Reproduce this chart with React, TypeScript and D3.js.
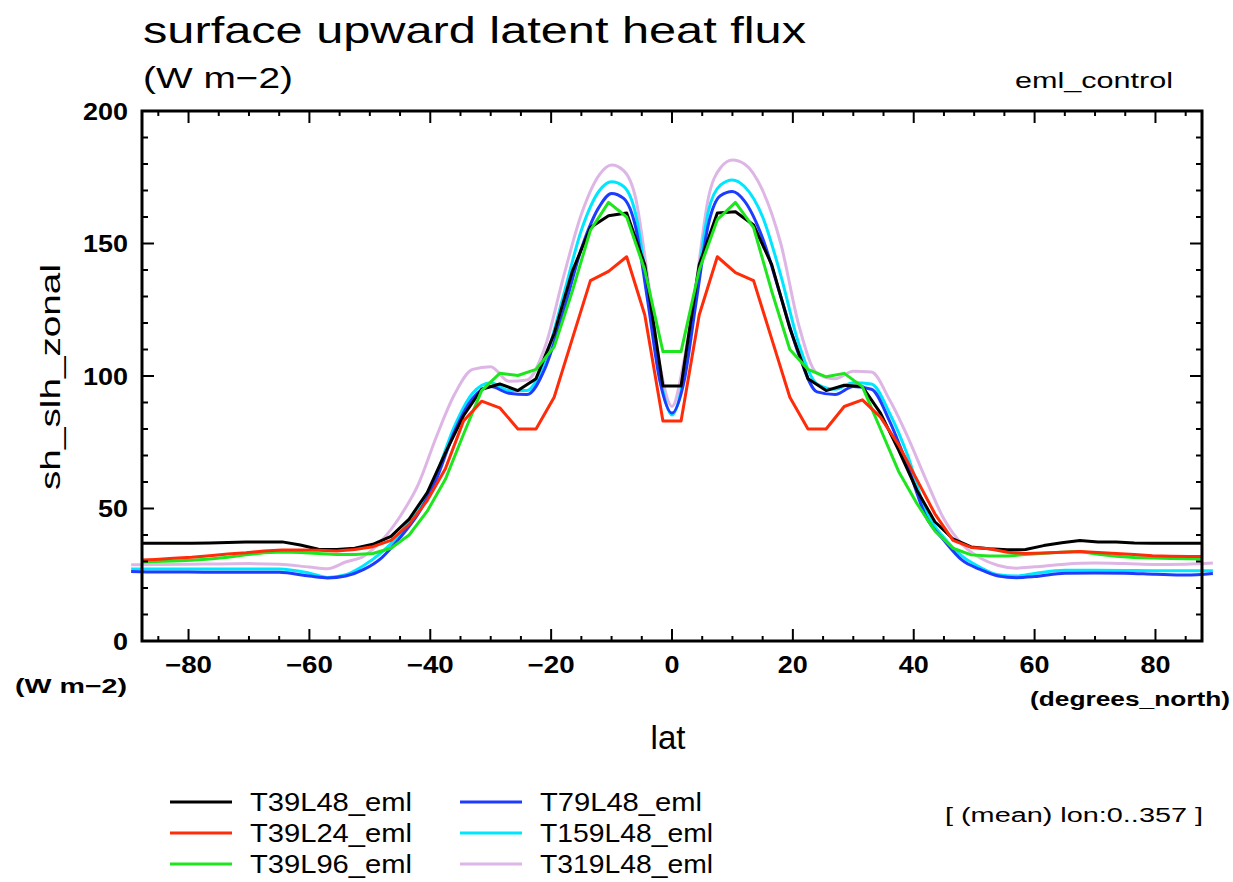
import React from "react";
import * as d3 from "d3";

// ---------- DATA ----------
const latT39 = [
  -88.5, -85.5, -82.5, -79.5, -76.5, -73.5, -70.5, -67.5, -64.5, -61.5,
  -58.5, -55.5, -52.5, -49.5, -46.5, -43.5, -40.5, -37.5, -34.5, -31.5,
  -28.5, -25.5, -22.5, -19.5, -16.5, -13.5, -10.5, -7.5, -4.5, -1.5,
  1.5, 4.5, 7.5, 10.5, 13.5, 16.5, 19.5, 22.5, 25.5, 28.5,
  31.5, 34.5, 37.5, 40.5, 43.5, 46.5, 49.5, 52.5, 55.5, 58.5,
  61.5, 64.5, 67.5, 70.5, 73.5, 76.5, 79.5, 82.5, 85.5, 88.5,
];

const latHi = [
  -89.5, -85, -80, -75, -70, -65, -60, -57, -54, -51, -48, -45, -42, -39,
  -36, -33, -30, -27, -24, -21, -18, -15, -12, -10, -8, -6, -4, -2,
  0,
  2, 4, 6, 8, 10, 12, 15, 18, 21, 24, 27, 30, 33, 36,
  39, 42, 45, 48, 51, 54, 57, 60, 65, 70, 75, 80, 85, 89.5,
];

const T39L48 = [
  36.9, 36.9, 36.9, 36.9, 37.0, 37.2, 37.4, 37.4, 37.4, 36.2,
  34.6, 34.5, 35.0, 36.5, 39.5, 46.0, 56.0, 71.0, 85.0, 95.0,
  97.0, 94.5, 99.0, 116.0, 139.5, 156.0, 160.5, 161.5, 142.0, 96.2,
  96.2, 142.0, 161.5, 162.0, 157.0, 142.0, 118.0, 99.0, 94.5, 96.5,
  96.0, 86.0, 72.0, 57.0, 45.0, 38.5, 35.5, 34.8, 34.4, 34.5,
  36.0, 37.1, 37.9, 37.4, 37.4, 37.0, 36.9, 36.9, 36.9, 36.9,
];

const T39L24 = [
  30.5, 30.8, 31.2, 31.6, 32.2, 32.8, 33.3, 34.0, 34.3, 34.3,
  34.2, 34.0, 34.5, 35.6, 38.0, 44.0, 53.0, 65.0, 83.0, 90.5,
  88.0, 80.0, 80.0, 92.0, 114.0, 136.0, 139.5, 145.0, 123.0, 83.0,
  83.0, 123.0, 145.0, 139.0, 136.0, 114.0, 92.0, 80.0, 80.0, 88.5,
  91.0, 84.5, 74.0, 61.0, 48.0, 38.0, 35.3, 34.8, 33.5, 33.0,
  33.2, 33.5, 33.8, 33.4, 33.0, 32.6, 32.2, 32.0, 31.9, 31.9,
];

const T39L96 = [
  29.8, 30.0, 30.2, 30.5, 30.9, 31.6, 32.5, 33.3, 33.6, 33.4,
  33.0, 32.6, 32.6, 33.0, 35.0, 40.0, 49.0, 61.0, 78.0, 94.5,
  101.0, 100.2, 102.5, 111.0, 132.0, 155.0, 165.5, 160.0, 140.0, 109.2,
  109.2, 140.0, 159.0, 165.5, 156.0, 132.0, 110.0, 102.5, 99.7, 101.0,
  96.0, 80.0, 64.0, 52.0, 41.5, 35.0, 32.5, 32.1, 32.1, 32.6,
  33.1, 33.5, 33.8, 32.7, 32.0, 31.5, 31.3, 31.1, 31.0, 30.9,
];

const T79L48 = [
  26.2, 26.0, 26.0, 25.9, 25.9, 25.9, 24.5, 23.8, 24.5, 27.0, 31.5, 39.0, 48.0, 61.0,
  79.0, 91.5, 96.0, 93.5, 93.0, 103.0, 124.0, 148.0, 164.0, 168.9, 167.0, 156.0, 128.0, 98.0,
  86.0,
  98.0, 128.0, 157.0, 168.0, 169.6, 166.0, 152.0, 130.0, 108.0, 94.0, 93.0, 96.0, 95.0, 83.0,
  66.0, 47.0, 38.0, 30.5, 27.0, 24.5, 23.9, 24.3, 25.6, 25.7, 25.6, 25.2, 24.9, 25.5,
];

const T159L48 = [
  27.2, 27.2, 27.2, 27.2, 27.2, 27.2, 25.6, 24.0, 25.0, 28.5, 33.5, 40.5, 49.5, 63.0,
  81.0, 93.5, 97.5, 94.5, 94.5, 106.0, 130.0, 155.0, 170.0, 173.3, 171.5, 161.0, 132.0, 100.0,
  85.3,
  100.0, 132.0, 162.0, 172.0, 174.0, 171.5, 160.0, 138.0, 112.0, 97.0, 95.0, 97.5, 97.0, 86.0,
  70.0, 49.0, 39.0, 32.0, 27.8, 25.0, 24.5, 25.5, 26.7, 26.7, 26.6, 26.5, 26.5, 26.5,
];

const T319L48 = [
  28.8, 28.9, 29.0, 29.1, 29.2, 29.0, 27.9, 27.3, 29.8, 32.0, 38.0, 47.0, 59.0, 77.0,
  93.0, 102.5, 103.5, 98.0, 98.5, 111.0, 137.0, 161.0, 176.0, 179.6, 177.5, 167.0, 137.0, 104.0,
  88.5,
  106.0, 135.0, 167.0, 178.5, 181.5, 180.0, 170.0, 150.0, 119.0, 101.0, 99.0, 101.8, 101.5, 91.0,
  77.0, 61.0, 46.0, 36.5, 31.3, 28.5, 27.5, 28.0, 29.0, 29.4, 29.2, 28.9, 29.0, 29.4,
];

const seriesNames = ["T39L48_eml", "T39L24_eml", "T39L96_eml", "T79L48_eml", "T159L48_eml", "T319L48_eml"];
const seriesColors = ["#000000", "#ff2c0a", "#1ee61e", "#1e3cff", "#00e6ff", "#deb6e6"];
const seriesValues = [T39L48, T39L24, T39L96, T79L48, T159L48, T319L48];
const seriesLats = [latT39, latT39, latT39, latHi, latHi, latHi];
const seriesClipped = [true, true, true, false, false, false];
const seriesSmooth = [false, false, false, true, true, true];
const drawOrder = [5, 4, 3, 0, 2, 1];

const xTickLabels = [-80, -60, -40, -20, 0, 20, 40, 60, 80];
const yTickLabels = [0, 50, 100, 150, 200];

// ---------- LAYOUT ----------
const W = 1233;
const H = 882;
const L = 142, R = 1202, T = 111, B = 641;
const LAT_EDGE = 87.7;

const FONT = "'Liberation Sans', 'DejaVu Sans', sans-serif";

export default function App() {
  const x = d3.scaleLinear().domain([-LAT_EDGE, LAT_EDGE]).range([L, R]);
  const y = d3.scaleLinear().domain([0, 200]).range([B, T]);

  const minorX = d3.range(-85, 86, 5);
  const minorY = d3.range(0, 201, 10);

  const linePath = (i: number) => {
    const lats = seriesLats[i];
    const vals = seriesValues[i];
    const gen = d3
      .line<number>()
      .x((_, k) => x(lats[k]))
      .y((v) => y(v))
      .curve(seriesSmooth[i] ? d3.curveMonotoneX : d3.curveLinear);
    return gen(vals) || "";
  };

  const legendRows = [0, 1, 2];
  const tickLabel = (v: number) => (v < 0 ? "−" + Math.abs(v) : String(v));

  return (
    <svg
      width={W}
      height={H}
      style={{ position: "absolute", left: 0, top: 0, background: "#fff" }}
      fontFamily={FONT}
    >
      <defs>
        <clipPath id="frameClip">
          <rect x={L} y={0} width={R - L} height={H} />
        </clipPath>
      </defs>
      <rect x={0} y={0} width={W} height={H} fill="#fff" />

      {/* titles */}
      <text x={143} y={43} fontSize={36} textLength={663} lengthAdjust="spacingAndGlyphs">
        surface upward latent heat flux
      </text>
      <text x={143} y={88} fontSize={29} textLength={150} lengthAdjust="spacingAndGlyphs">
        (W m−2)
      </text>
      <text x={1015} y={88} fontSize={22} textLength={158} lengthAdjust="spacingAndGlyphs">
        eml_control
      </text>

      {/* data lines */}
      {drawOrder.map((i) => (
        <path
          key={seriesNames[i]}
          d={linePath(i)}
          fill="none"
          stroke={seriesColors[i]}
          strokeWidth={3}
          strokeLinejoin="round"
          clipPath={seriesClipped[i] ? "url(#frameClip)" : undefined}
        />
      ))}

      {/* frame */}
      <rect x={L} y={T} width={R - L} height={B - T} fill="none" stroke="#000" strokeWidth={3} />

      {/* x ticks (bottom & top, inward) */}
      {minorX.map((v) => {
        const major = v % 20 === 0;
        const len = major ? 12 : 5;
        return (
          <g key={"xt" + v}>
            <line x1={x(v)} x2={x(v)} y1={B} y2={B - len} stroke="#000" strokeWidth={2} />
            <line x1={x(v)} x2={x(v)} y1={T} y2={T + len} stroke="#000" strokeWidth={2} />
          </g>
        );
      })}
      {/* y ticks (left & right, inward) */}
      {minorY.map((v) => {
        const major = v % 50 === 0;
        const len = major ? 12 : 6;
        return (
          <g key={"yt" + v}>
            <line x1={L} x2={L + len} y1={y(v)} y2={y(v)} stroke="#000" strokeWidth={2} />
            <line x1={R} x2={R - len} y1={y(v)} y2={y(v)} stroke="#000" strokeWidth={2} />
          </g>
        );
      })}

      {/* tick labels */}
      {xTickLabels.map((v) => {
        const s = tickLabel(v);
        return (
          <text
            key={"xl" + v}
            x={x(v)}
            y={664}
            fontSize={24}
            fontWeight="bold"
            textAnchor="middle"
            dominantBaseline="central"
            textLength={v < 0 ? 47 : s.length * 15}
            lengthAdjust="spacingAndGlyphs"
          >
            {s}
          </text>
        );
      })}
      {yTickLabels.map((v) => {
        const s = String(v);
        return (
          <text
            key={"yl" + v}
            x={128}
            y={y(v)}
            fontSize={24}
            fontWeight="bold"
            textAnchor="end"
            dominantBaseline="central"
            textLength={s.length * 15}
            lengthAdjust="spacingAndGlyphs"
          >
            {s}
          </text>
        );
      })}

      {/* unit labels */}
      <text x={15} y={686} fontSize={20} fontWeight="bold" dominantBaseline="central" textLength={112} lengthAdjust="spacingAndGlyphs">
        (W m−2)
      </text>
      <text x={1030} y={699} fontSize={20} fontWeight="bold" dominantBaseline="central" textLength={200} lengthAdjust="spacingAndGlyphs">
        (degrees_north)
      </text>

      {/* axis titles */}
      <text x={668} y={737} fontSize={33} textAnchor="middle" dominantBaseline="central">
        lat
      </text>
      <text
        x={0}
        y={0}
        fontSize={28}
        textAnchor="middle"
        dominantBaseline="central"
        transform={`translate(50,377) rotate(-90)`}
        textLength={226}
        lengthAdjust="spacingAndGlyphs"
      >
        sh_slh_zonal
      </text>

      {/* legend */}
      {seriesNames.map((name, i) => {
        const col = Math.floor(i / 3);
        const row = legendRows[i % 3];
        const ly = 802 + row * 31;
        const lx = col === 0 ? 170 : 460;
        const tx = col === 0 ? 250 : 540;
        const tl = name.length === 10 ? 162 : 173;
        return (
          <g key={"lg" + name}>
            <line x1={lx} x2={lx + 62} y1={ly} y2={ly} stroke={seriesColors[i]} strokeWidth={3} />
            <text x={tx} y={ly} fontSize={26} dominantBaseline="central" textLength={tl} lengthAdjust="spacingAndGlyphs">
              {name}
            </text>
          </g>
        );
      })}
      <text x={945} y={815} fontSize={20} dominantBaseline="central" textLength={258} lengthAdjust="spacingAndGlyphs">
        [ (mean) lon:0..357 ]
      </text>
    </svg>
  );
}
